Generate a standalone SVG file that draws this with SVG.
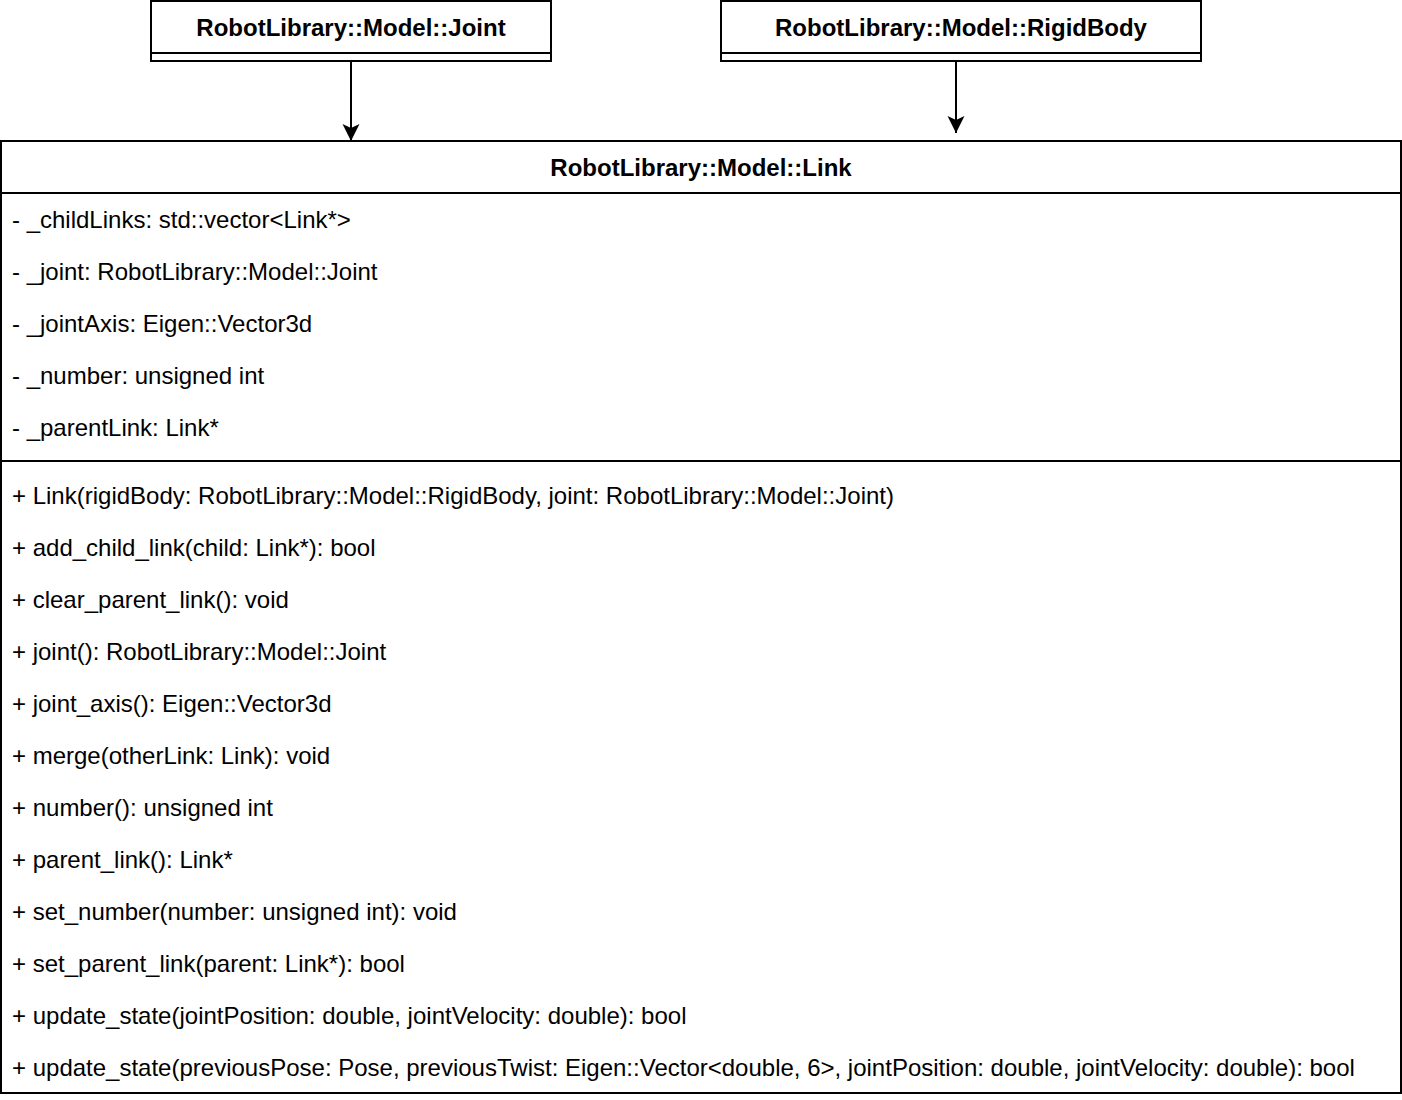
<svg xmlns="http://www.w3.org/2000/svg" width="1402" height="1100" viewBox="0 0 1402 1100">
<style>
.box{fill:#fff;stroke:#000;stroke-width:2}
.ln{stroke:#000;stroke-width:2;fill:none}
.t{font-family:"Liberation Sans",Arial,sans-serif;font-size:24px;fill:#000}
.b{font-weight:bold;text-anchor:middle}
</style>
<defs>
<marker id="ah2" markerWidth="18" markerHeight="18" refX="17" refY="9" orient="auto" markerUnits="userSpaceOnUse" viewBox="0 0 18 18">
<path d="M0,0.5 L17,9 L0,17.5 L4,9 Z" fill="#000"/>
</marker>
</defs>
<g id="connectors">
<line class="ln" x1="351" y1="61" x2="351" y2="141" marker-end="url(#ah2)"/>
<line class="ln" x1="956" y1="61" x2="956" y2="133" marker-end="url(#ah2)"/>
</g>
<g id="joint">
<rect class="box" x="151" y="1" width="400" height="60"/>
<line class="ln" x1="151" y1="53" x2="551" y2="53"/>
<text class="t b" x="351" y="36">RobotLibrary::Model::Joint</text>
</g>
<g id="rigidbody">
<rect class="box" x="721" y="1" width="480" height="60"/>
<line class="ln" x1="721" y1="53" x2="1201" y2="53"/>
<text class="t b" x="961" y="36">RobotLibrary::Model::RigidBody</text>
</g>
<g id="link">
<rect class="box" x="1" y="141" width="1400" height="952"/>
<line class="ln" x1="1" y1="193" x2="1401" y2="193"/>
<line class="ln" x1="1" y1="461" x2="1401" y2="461"/>
<text class="t b" x="701" y="176">RobotLibrary::Model::Link</text>
<text class="t" x="12" y="228">- _childLinks: std::vector&lt;Link*&gt;</text>
<text class="t" x="12" y="280">- _joint: RobotLibrary::Model::Joint</text>
<text class="t" x="12" y="332">- _jointAxis: Eigen::Vector3d</text>
<text class="t" x="12" y="384">- _number: unsigned int</text>
<text class="t" x="12" y="436">- _parentLink: Link*</text>
<text class="t" x="12" y="504">+ Link(rigidBody: RobotLibrary::Model::RigidBody, joint: RobotLibrary::Model::Joint)</text>
<text class="t" x="12" y="556">+ add_child_link(child: Link*): bool</text>
<text class="t" x="12" y="608">+ clear_parent_link(): void</text>
<text class="t" x="12" y="660">+ joint(): RobotLibrary::Model::Joint</text>
<text class="t" x="12" y="712">+ joint_axis(): Eigen::Vector3d</text>
<text class="t" x="12" y="764">+ merge(otherLink: Link): void</text>
<text class="t" x="12" y="816">+ number(): unsigned int</text>
<text class="t" x="12" y="868">+ parent_link(): Link*</text>
<text class="t" x="12" y="920">+ set_number(number: unsigned int): void</text>
<text class="t" x="12" y="972">+ set_parent_link(parent: Link*): bool</text>
<text class="t" x="12" y="1024">+ update_state(jointPosition: double, jointVelocity: double): bool</text>
<text class="t" x="12" y="1076">+ update_state(previousPose: Pose, previousTwist: Eigen::Vector&lt;double, 6&gt;, jointPosition: double, jointVelocity: double): bool</text>
</g>
</svg>
